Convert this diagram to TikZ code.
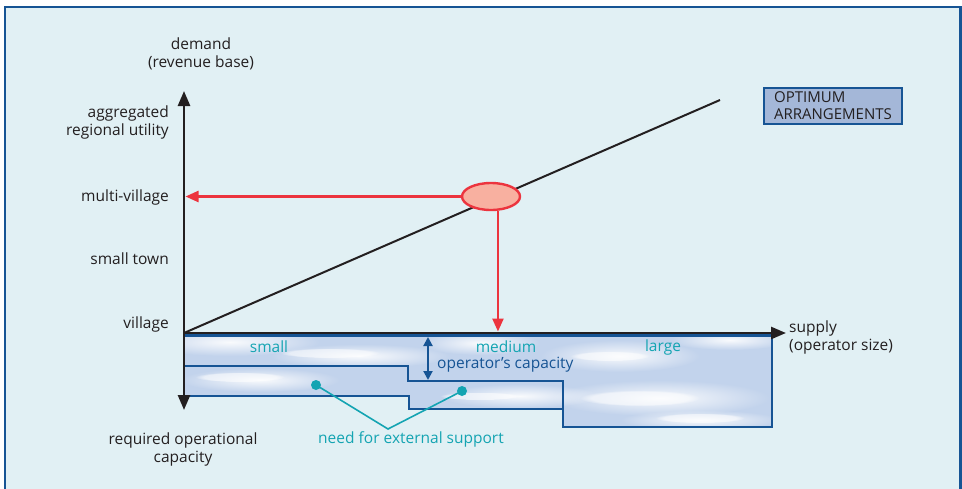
\documentclass[tikz,border=0pt]{standalone}
\usepackage{fontspec}
\setmainfont{Open Sans}
\usetikzlibrary{arrows.meta,shapes.geometric,fadings}

\definecolor{panel}{RGB}{225,240,244}
\definecolor{frameblue}{RGB}{22,84,148}
\definecolor{ink}{RGB}{35,31,32}
\definecolor{teal}{RGB}{20,164,178}
\definecolor{water}{RGB}{194,211,236}
\definecolor{salmon}{RGB}{248,176,160}
\definecolor{signal}{RGB}{236,52,62}
\definecolor{tagfill}{RGB}{164,183,216}

% a round fading that is opaque at its middle and clear at its rim
\tikzfading[name=softglow, inner color=transparent!0, outer color=transparent!100]

\tikzset{
  lbl/.style={text=ink, font=\fontsize{15.5}{18}\selectfont, inner sep=0pt, align=center},
  tealtxt/.style={text=teal, font=\fontsize{15.5}{18}\selectfont, inner sep=0pt},
  axis/.style={draw=ink, line width=2.6pt, -{Triangle[length=15pt,width=12pt]}},
  redline/.style={draw=signal, line width=2.4pt, -{Triangle[length=13pt,width=11pt]}},
  stepline/.style={draw=frameblue, line width=2.6pt, line join=miter},
  swirl/.style={fill=white, path fading=circle with fuzzy edge 20 percent, fill opacity=0.55},
  haze/.style={fill=white, path fading=softglow, fill opacity=0.9},
}

\begin{document}
\begin{tikzpicture}[x=1pt,y=-1pt]
\useasboundingbox (0,0) rectangle (962,488);
\clip (0,0) rectangle (962,488);

% panel and its frame
\fill[panel] (5,7) rectangle (961,500);
\draw[frameblue, line width=2.6pt] (5,500) -- (5,7) -- (960.5,7) -- (960.5,500);

% axes coordinates
\coordinate (O) at (184,333);
\coordinate (ytop) at (184,91);
\coordinate (ybot) at (184,410);
\coordinate (xend) at (786,333);
\coordinate (dend) at (720,100);

% capacity band with a water texture
\begin{scope}
  \clip (184,335) -- (772,335) -- (772,427) -- (563,427) -- (563,409)
        -- (409,409) -- (409,396) -- (184,396) -- cycle;
  \fill[water] (180,330) rectangle (780,430);
  \fill[haze] (230,342) ellipse (90 and 14);
  \fill[haze] (360,356) ellipse (90 and 12);
  \fill[haze] (480,343) ellipse (60 and 12);
  \fill[haze] (620,356) ellipse (80 and 16);
  \fill[haze] (730,340) ellipse (60 and 10);
  \fill[haze] (260,380) ellipse (80 and 12);
  \fill[haze] (520,396) ellipse (80 and 12);
  \fill[haze] (660,398) ellipse (110 and 18);
  \fill[haze] (700,420) ellipse (80 and 10);
  \fill[swirl] (330,353) ellipse (50 and 5);
  \fill[swirl] (610,356) ellipse (40 and 5);
  \fill[swirl] (640,398) ellipse (60 and 8);
  \fill[swirl] (240,377) ellipse (45 and 5);
  \fill[swirl] (480,396) ellipse (40 and 4);
  \fill[swirl] (700,418) ellipse (45 and 5);
\end{scope}

% band outline and the operator's capacity step
\draw[stepline] (184,335.5) -- (772,335.5) -- (772,427) -- (563,427) -- (563,409)
      -- (409,409) -- (409,396) -- (184,396);
\draw[stepline] (184,366) -- (408,366) -- (408,381) -- (563,381) -- (563,409);

% demand line
\draw[ink, line width=2pt] (O) -- (dend);

% axes
\draw[axis] (O) -- (ytop);
\draw[axis] (O) -- (ybot);
\draw[axis] (O) -- (xend);

% optimum point with its projections
\node[ellipse, draw=signal, fill=salmon, line width=2.4pt, minimum width=58pt,
      minimum height=27pt, inner sep=0pt] (opt) at (491,196.5) {};
\coordinate (mv) at (185.5,196.5);
\coordinate (mtip) at (498,331.5);
\draw[redline] (opt.west) -- (mv);
\draw[redline] (opt.-64) -- (opt.-64 |- mtip);

% operator capacity marker
\coordinate (capt) at (428,337);
\coordinate (capb) at (428,380);
\draw[frameblue, line width=2pt, {Triangle[length=9pt,width=9pt]}-{Triangle[length=9pt,width=9pt]}] (capt) -- (capb);

% external support pointers
\coordinate (join) at (388,429);
\node[circle, fill=teal, inner sep=0pt, minimum size=10pt] (d1) at (316,385) {};
\node[circle, fill=teal, inner sep=0pt, minimum size=10pt] (d2) at (462,391) {};
\draw[teal, line width=1.6pt] (d1.center) -- (join) -- (d2.center);

% axis labels
\node[lbl] (ydem) at (201,54) {demand\\(revenue base)};
\node[lbl, anchor=east, align=right] (yagg) at (169,122) {aggregated\\regional utility};
\node[lbl, anchor=east] (ymv) at (169,197) {multi-village};
\node[lbl, anchor=east] (yst) at (169,259) {small town};
\node[lbl, anchor=east] (yv) at (169,324) {village};
\node[lbl] (yreq) at (183,449) {required operational\\capacity};
\node[lbl, anchor=west, align=left] (xsup) at (789,337) {supply\\(operator size)};

% band labels
\node[tealtxt] (small) at (269,347) {small};
\node[tealtxt] (medium) at (506,347) {medium};
\node[tealtxt] (large) at (663,347) {large};
\node[text=frameblue, font=\fontsize{15.5}{18}\selectfont, inner sep=0pt, anchor=west] (opcap) at (437,365) {operator’s capacity};
\node[tealtxt] (ext) at (411,439) {need for external support};

% optimum tag
\node[draw=frameblue, fill=tagfill, line width=2pt, text=ink, align=left,
      font=\fontsize{15}{17}\selectfont, inner sep=3pt, anchor=north west,
      minimum width=138pt, minimum height=36pt] (tag) at (763,87) {OPTIMUM\\ARRANGEMENTS};
\end{tikzpicture}
\end{document}
